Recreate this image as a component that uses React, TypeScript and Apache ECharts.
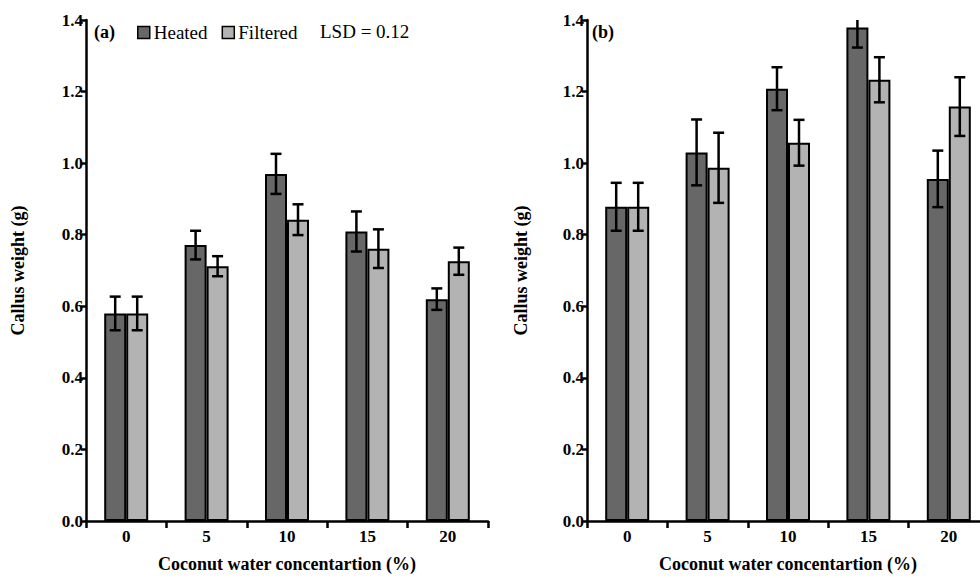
import React, { useEffect, useRef } from "react";
import * as echarts from "echarts";

const categories = ["0", "5", "10", "15", "20"];
const yTicks = [0, 0.2, 0.4, 0.6, 0.8, 1.0, 1.2, 1.4];

const heatedA = [0.58, 0.771, 0.97, 0.809, 0.62];
const heatedAErr = [0.047, 0.04, 0.056, 0.056, 0.03];
const filteredA = [0.58, 0.712, 0.842, 0.761, 0.726];
const filteredAErr = [0.047, 0.028, 0.043, 0.054, 0.038];

const heatedB = [0.878, 1.03, 1.208, 1.379, 0.956];
const heatedBErr = [0.067, 0.092, 0.06, 0.056, 0.079];
const filteredB = [0.878, 0.987, 1.057, 1.233, 1.158];
const filteredBErr = [0.067, 0.098, 0.064, 0.063, 0.082];

const DARK = "#676767";
const LIGHT = "#b3b3b3";
const FONT = "'Liberation Serif', 'Times New Roman', serif";
const BAR_W = 22;

function App() {
  const ref = useRef<HTMLDivElement>(null);

  useEffect(() => {
    if (!ref.current) return;
    const chart = echarts.init(ref.current, undefined, { renderer: "svg" });

    const errSeries = (
      name: string,
      vals: number[],
      errs: number[],
      offset: number,
      axis: number
    ) => ({
      type: "custom",
      name,
      xAxisIndex: axis,
      yAxisIndex: axis,
      clip: true,
      z: 10,
      silent: true,
      data: vals.map((v, i) => [i, v, errs[i]]),
      renderItem: (params: any, api: any) => {
        const i = api.value(0);
        const v = api.value(1);
        const e = api.value(2);
        const top = api.coord([i, v + e]);
        const bot = api.coord([i, v - e]);
        const x = top[0] + offset;
        const cap = 5.5;
        const style = { stroke: "#000", lineWidth: 2.5 };
        return {
          type: "group",
          children: [
            { type: "line", shape: { x1: x, y1: top[1], x2: x, y2: bot[1] }, style },
            { type: "line", shape: { x1: x - cap, y1: top[1], x2: x + cap, y2: top[1] }, style },
            { type: "line", shape: { x1: x - cap, y1: bot[1], x2: x + cap, y2: bot[1] }, style },
          ],
        };
      },
    });

    const barSeries = (name: string, vals: number[], color: string, axis: number) => ({
      type: "bar",
      name,
      xAxisIndex: axis,
      yAxisIndex: axis,
      data: vals,
      barWidth: BAR_W,
      barGap: "0%",
      z: 2,
      itemStyle: { color, borderColor: "#000", borderWidth: 2 },
    });

    const xAxis = (grid: number) => ({
      type: "category",
      gridIndex: grid,
      data: categories,
      boundaryGap: true,
      z: 5,
      axisLine: { lineStyle: { color: "#000", width: 2.5 } },
      axisTick: { show: true, length: 7, inside: false, lineStyle: { color: "#000", width: 2.5 } },
      axisLabel: {
        color: "#000",
        fontFamily: FONT,
        fontWeight: "bold",
        fontSize: 17,
        margin: 7,
      },
      name: "Coconut water concentartion (%)",
      nameLocation: "middle",
      nameGap: 34,
      nameTextStyle: { color: "#000", fontFamily: FONT, fontWeight: "bold", fontSize: 18 },
    });

    const yAxis = (grid: number, gap: number) => ({
      type: "value",
      gridIndex: grid,
      min: 0,
      max: 1.4,
      interval: 0.2,
      z: 5,
      splitLine: { show: false },
      axisLine: { show: true, lineStyle: { color: "#000", width: 2.5 } },
      axisTick: { show: true, length: 5, lineStyle: { color: "#000", width: 2.5 } },
      axisLabel: {
        color: "#000",
        fontFamily: FONT,
        fontWeight: "bold",
        fontSize: 17,
        margin: 3,
        formatter: (v: number) => {
          const t = yTicks.find((k) => Math.abs(k - v) < 1e-6);
          return (t === undefined ? v : t).toFixed(1);
        },
      },
      name: "Callus weight (g)",
      nameLocation: "middle",
      nameGap: gap,
      nameTextStyle: { color: "#000", fontFamily: FONT, fontWeight: "bold", fontSize: 18 },
    });

    chart.setOption({
      animation: false,
      backgroundColor: "#fff",
      grid: [
        { left: 86, top: 20, width: 402, height: 505, containLabel: false },
        { left: 587, top: 20, width: 402, height: 505, containLabel: false },
      ],
      legend: {
        data: ["Heated", "Filtered"],
        left: 132,
        top: 18,
        icon: "rect",
        itemWidth: 12,
        itemHeight: 12,
        itemGap: 14,
        selectedMode: false,
        itemStyle: { borderColor: "#000", borderWidth: 1.5 },
        textStyle: { color: "#000", fontFamily: FONT, fontSize: 19, padding: [0, 0, 0, -1] },
      },
      xAxis: [xAxis(0), xAxis(1)],
      yAxis: [yAxis(0, 59), yAxis(1, 57)],
      graphic: [
        {
          type: "text",
          left: 94,
          top: 23,
          style: { text: "(a)", fill: "#000", fontFamily: FONT, fontWeight: "bold", fontSize: 18 },
        },
        {
          type: "text",
          left: 320,
          top: 22,
          style: { text: "LSD = 0.12", fill: "#000", fontFamily: FONT, fontSize: 19 },
        },
        {
          type: "text",
          left: 592,
          top: 23,
          style: { text: "(b)", fill: "#000", fontFamily: FONT, fontWeight: "bold", fontSize: 18 },
        },
      ],
      series: [
        barSeries("Heated", heatedA, DARK, 0),
        barSeries("Filtered", filteredA, LIGHT, 0),
        barSeries("Heated", heatedB, DARK, 1),
        barSeries("Filtered", filteredB, LIGHT, 1),
        errSeries("Heated", heatedA, heatedAErr, -BAR_W / 2, 0),
        errSeries("Filtered", filteredA, filteredAErr, BAR_W / 2, 0),
        errSeries("Heated", heatedB, heatedBErr, -BAR_W / 2, 1),
        errSeries("Filtered", filteredB, filteredBErr, BAR_W / 2, 1),
      ],
    });

    return () => chart.dispose();
  }, []);

  return (
    <div
      style={{
        position: "fixed",
        left: 0,
        top: 0,
        width: 980,
        height: 578,
        overflow: "hidden",
        background: "#fff",
      }}
    >
      <div ref={ref} style={{ width: 1000, height: 578 }} />
    </div>
  );
}

export default App;
